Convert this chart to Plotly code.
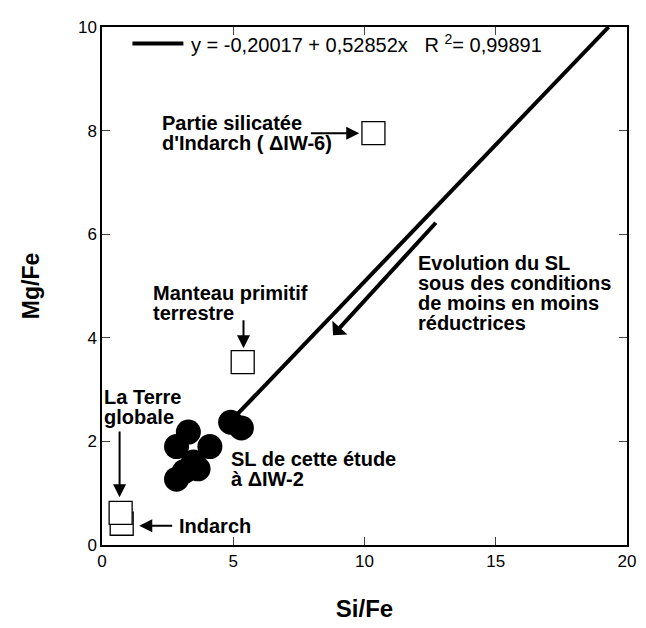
import plotly.graph_objects as go

# Data
sl_x = [4.90, 5.31, 3.29, 2.84, 4.11, 3.48, 3.14, 2.84, 3.66]
sl_y = [2.37, 2.26, 2.18, 1.90, 1.90, 1.60, 1.42, 1.27, 1.47]

ref_names = ["Indarch", "La Terre globale", "Manteau primitif terrestre", "Partie silicatée d'Indarch"]
ref_x = [0.75, 0.71, 5.36, 10.34]
ref_y = [0.41, 0.62, 3.53, 7.95]

intercept = -0.20017
slope = 0.52852
fit_x = [5.0, 19.3]
fit_y = [intercept + slope * v for v in fit_x]
fit_label = "y = -0,20017 + 0,52852x   R <sup>2</sup>= 0,99891"

x_ticks = [0, 5, 10, 15, 20]
y_ticks = [0, 2, 4, 6, 8, 10]

FONT = "Arial, Liberation Sans, Helvetica, sans-serif"
ANN = 20
LINE = 0.385  # line spacing in y data units (~20.5 px)

fig = go.Figure()
fig.add_trace(go.Scatter(
    x=fit_x, y=fit_y, mode="lines",
    line=dict(color="black", width=4),
    name=fit_label, showlegend=False,
))
fig.add_trace(go.Scatter(
    x=sl_x, y=sl_y, mode="markers",
    marker=dict(symbol="circle", size=25, color="black", line=dict(width=0)),
    showlegend=False, name="SL",
))
fig.add_trace(go.Scatter(
    x=ref_x, y=ref_y, mode="markers",
    marker=dict(symbol="square", size=23, color="white", line=dict(color="black", width=1.3)),
    showlegend=False, text=ref_names,
))

annots = []
def txt(x, y, s, size=ANN, bold=True):
    annots.append(dict(x=x, y=y, xref="x", yref="y", text=(f"<b>{s}</b>" if bold else s),
                       showarrow=False, xanchor="left", yanchor="middle",
                       font=dict(family=FONT, size=size, color="black")))

def block(x, y_top, lines):
    for i, s in enumerate(lines):
        txt(x, y_top - i * LINE, s)

def arrow(x0, y0, x1, y1, w=2, head=2, size=1.3):
    annots.append(dict(x=x1, y=y1, ax=x0, ay=y0, xref="x", yref="y", axref="x", ayref="y",
                       text="", showarrow=True, arrowhead=head, arrowwidth=w,
                       arrowsize=size, arrowcolor="black", standoff=0, startstandoff=0))

block(2.2, 8.14, ["Partie silicatée", "d'Indarch ( ΔIW-6)"])
arrow(7.9, 7.95, 9.8, 7.95)

block(1.85, 4.86, ["Manteau primitif", "terrestre"])
arrow(5.39, 4.37, 5.39, 3.80)

block(11.95, 5.45, ["Evolution du SL", "sous des conditions", "de moins en moins", "réductrices"])
arrow(12.77, 6.25, 8.8, 4.05, w=4, head=1, size=0.85)

block(0.0, 2.85, ["La Terre", "globale"])
arrow(0.67, 2.22, 0.67, 0.92)

block(4.85, 1.66, ["SL de cette étude", "à ΔIW-2"])

txt(2.85, 0.37, "Indarch")
arrow(2.73, 0.37, 1.42, 0.37)

# legend sample (drawn) + label
annots.append(dict(x=0.165, y=0.968, xref="paper", yref="paper", text=fit_label,
                   showarrow=False, xanchor="left", yanchor="middle",
                   font=dict(family=FONT, size=20, color="black")))

# page body has an 8px margin: size/offset the figure so the plot lands where the reference has it
fig.update_layout(
    width=638, height=620, autosize=False,
    margin=dict(l=94, r=10, t=10, b=74),
    paper_bgcolor="white", plot_bgcolor="white",
    font=dict(family=FONT, color="black", size=17),
    annotations=annots,
    shapes=[dict(type="line", xref="paper", yref="paper", x0=0.058, x1=0.155,
                 y0=0.968, y1=0.968, line=dict(color="black", width=4))],
    xaxis=dict(range=[0, 20], tickvals=x_ticks, ticks="inside", ticklen=8, tickwidth=1.2,
               showline=True, linecolor="black", linewidth=1.5, mirror="ticks",
               showgrid=False, zeroline=False, tickfont=dict(size=17),
               title=dict(text="<b>Si/Fe</b>", font=dict(size=24), standoff=30)),
    yaxis=dict(range=[0, 10], tickvals=y_ticks, ticks="inside", ticklen=8, tickwidth=1.2,
               showline=True, linecolor="black", linewidth=1.5, mirror="ticks",
               showgrid=False, zeroline=False, tickfont=dict(size=17),
               title=dict(text="<b>Mg/Fe</b>", font=dict(size=23), standoff=32)),
)

fig.write_html("out.html")
